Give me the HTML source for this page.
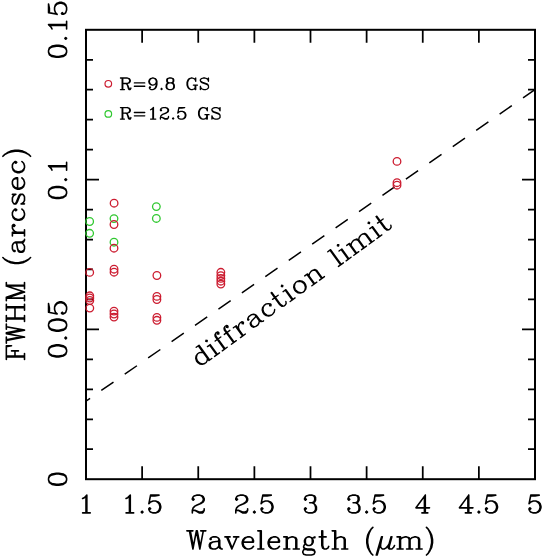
<!DOCTYPE html><html><head><meta charset="utf-8"><style>html,body{margin:0;padding:0;background:#fff;overflow:hidden}svg{display:block}</style></head><body><svg width="544" height="557" viewBox="0 0 544 557"><rect x="86.0" y="29.8" width="449.0" height="449.4" fill="none" stroke="#000" stroke-width="2.0"/><path d="M142.12 479.2V466.2M142.12 29.8V42.8M198.25 479.2V466.2M198.25 29.8V42.8M254.38 479.2V466.2M254.38 29.8V42.8M310.50 479.2V466.2M310.50 29.8V42.8M366.62 479.2V466.2M366.62 29.8V42.8M422.75 479.2V466.2M422.75 29.8V42.8M478.88 479.2V466.2M478.88 29.8V42.8M86.0 449.24H93.0M535.0 449.24H528.0M86.0 419.28H93.0M535.0 419.28H528.0M86.0 389.32H93.0M535.0 389.32H528.0M86.0 359.36H93.0M535.0 359.36H528.0M86.0 329.40H99.0M535.0 329.40H522.0M86.0 299.44H93.0M535.0 299.44H528.0M86.0 269.48H93.0M535.0 269.48H528.0M86.0 239.52H93.0M535.0 239.52H528.0M86.0 209.56H93.0M535.0 209.56H528.0M86.0 179.60H99.0M535.0 179.60H522.0M86.0 149.64H93.0M535.0 149.64H528.0M86.0 119.68H93.0M535.0 119.68H528.0M86.0 89.72H93.0M535.0 89.72H528.0M86.0 59.76H93.0M535.0 59.76H528.0" stroke="#000" stroke-width="1.75" fill="none"/><defs><clipPath id="c"><rect x="86" y="29.8" width="449" height="449.4"/></clipPath></defs><path clip-path="url(#c)" d="M77.87 406.74L540.00 86.03" stroke="#000" stroke-width="1.5" stroke-dasharray="14.85 13.67" fill="none"/><circle cx="89.65" cy="221.5" r="3.8" fill="none" stroke="#30c830" stroke-width="1.3"/><circle cx="89.65" cy="233.3" r="3.8" fill="none" stroke="#30c830" stroke-width="1.3"/><circle cx="114" cy="218.6" r="3.8" fill="none" stroke="#30c830" stroke-width="1.3"/><circle cx="114" cy="242.2" r="3.8" fill="none" stroke="#30c830" stroke-width="1.3"/><circle cx="156.35" cy="206.6" r="3.8" fill="none" stroke="#30c830" stroke-width="1.3"/><circle cx="156.35" cy="218.45" r="3.8" fill="none" stroke="#30c830" stroke-width="1.3"/><circle cx="89.7" cy="272.4" r="3.8" fill="none" stroke="#cc1c30" stroke-width="1.3"/><circle cx="89.8" cy="295.8" r="3.8" fill="none" stroke="#cc1c30" stroke-width="1.3"/><circle cx="89.8" cy="298.0" r="3.8" fill="none" stroke="#cc1c30" stroke-width="1.3"/><circle cx="89.8" cy="300.5" r="3.8" fill="none" stroke="#cc1c30" stroke-width="1.3"/><circle cx="89.8" cy="308.1" r="3.8" fill="none" stroke="#cc1c30" stroke-width="1.3"/><circle cx="114.1" cy="203.2" r="3.8" fill="none" stroke="#cc1c30" stroke-width="1.3"/><circle cx="114" cy="224.5" r="3.8" fill="none" stroke="#cc1c30" stroke-width="1.3"/><circle cx="114" cy="248.2" r="3.8" fill="none" stroke="#cc1c30" stroke-width="1.3"/><circle cx="114.05" cy="269.2" r="3.8" fill="none" stroke="#cc1c30" stroke-width="1.3"/><circle cx="114.05" cy="272.2" r="3.8" fill="none" stroke="#cc1c30" stroke-width="1.3"/><circle cx="114" cy="311.1" r="3.8" fill="none" stroke="#cc1c30" stroke-width="1.3"/><circle cx="114" cy="314.0" r="3.8" fill="none" stroke="#cc1c30" stroke-width="1.3"/><circle cx="114" cy="317.1" r="3.8" fill="none" stroke="#cc1c30" stroke-width="1.3"/><circle cx="156.9" cy="275.5" r="3.8" fill="none" stroke="#cc1c30" stroke-width="1.3"/><circle cx="156.9" cy="296.4" r="3.8" fill="none" stroke="#cc1c30" stroke-width="1.3"/><circle cx="156.9" cy="299.5" r="3.8" fill="none" stroke="#cc1c30" stroke-width="1.3"/><circle cx="156.9" cy="317.4" r="3.8" fill="none" stroke="#cc1c30" stroke-width="1.3"/><circle cx="156.9" cy="320.3" r="3.8" fill="none" stroke="#cc1c30" stroke-width="1.3"/><circle cx="220.85" cy="272.3" r="3.8" fill="none" stroke="#cc1c30" stroke-width="1.3"/><circle cx="220.85" cy="275.6" r="3.8" fill="none" stroke="#cc1c30" stroke-width="1.3"/><circle cx="220.85" cy="278.4" r="3.8" fill="none" stroke="#cc1c30" stroke-width="1.3"/><circle cx="220.85" cy="281.2" r="3.8" fill="none" stroke="#cc1c30" stroke-width="1.3"/><circle cx="220.85" cy="284.1" r="3.8" fill="none" stroke="#cc1c30" stroke-width="1.3"/><circle cx="397.0" cy="161.4" r="3.8" fill="none" stroke="#cc1c30" stroke-width="1.3"/><circle cx="397.0" cy="182.7" r="3.8" fill="none" stroke="#cc1c30" stroke-width="1.3"/><circle cx="397.0" cy="185.2" r="3.8" fill="none" stroke="#cc1c30" stroke-width="1.3"/><circle cx="108.3" cy="83.8" r="3.3" fill="none" stroke="#cc1c30" stroke-width="1.2"/><circle cx="108.3" cy="113.9" r="3.3" fill="none" stroke="#30c830" stroke-width="1.2"/><g fill="none" stroke="#000" stroke-width="1.6" stroke-linecap="round" stroke-linejoin="round"><path transform="translate(86.00 512.90)" stroke-width="1.6" d="M-3.38 -14.37L-1.69 -15.21L0.84 -17.75L0.84 0M0 -16.90L0 0M-3.38 0L4.22 0.00"/><path transform="translate(142.12 512.90)" stroke-width="1.6" d="M-16.05 -14.37L-14.37 -15.21L-11.83 -17.75L-11.83 0M-12.67 -16.90L-12.67 0M-16.05 0L-8.45 0M0 -1.69L-0.84 -0.84L0 0L0.84 -0.84L0 -1.69M8.45 -17.75L6.76 -9.29M6.76 -9.29L8.45 -10.98L10.98 -11.83L13.52 -11.83L16.05 -10.98L17.75 -9.29L18.59 -6.76L18.59 -5.07L17.75 -2.54L16.05 -0.84L13.52 0L10.98 0L8.45 -0.84L7.60 -1.69L6.76 -3.38L6.76 -4.22L7.60 -5.07L8.45 -4.22L7.60 -3.38M13.52 -11.83L15.21 -10.98L16.90 -9.29L17.75 -6.76L17.75 -5.07L16.90 -2.54L15.21 -0.84L13.52 0M8.45 -17.75L16.90 -17.75M8.45 -16.90L12.67 -16.90L16.90 -17.75"/><path transform="translate(198.25 512.90)" stroke-width="1.6" d="M-5.07 -14.37L-4.22 -13.52L-5.07 -12.67L-5.92 -13.52L-5.92 -14.37L-5.07 -16.05L-4.22 -16.90L-1.69 -17.75L1.69 -17.75L4.22 -16.90L5.07 -16.05L5.92 -14.37L5.92 -12.67L5.07 -10.98L2.54 -9.29L-1.69 -7.60L-3.38 -6.76L-5.07 -5.07L-5.92 -2.54L-5.92 0M1.69 -17.75L3.38 -16.90L4.22 -16.05L5.07 -14.37L5.07 -12.67L4.22 -10.98L1.69 -9.29L-1.69 -7.60M-5.92 -1.69L-5.07 -2.54L-3.38 -2.54L0.84 -0.84L3.38 -0.84L5.07 -1.69L5.92 -2.54M-3.38 -2.54L0.84 0L4.22 0L5.07 -0.84L5.92 -2.54L5.92 -4.22"/><path transform="translate(254.38 512.90)" stroke-width="1.6" d="M-17.75 -14.37L-16.90 -13.52L-17.75 -12.67L-18.59 -13.52L-18.59 -14.37L-17.75 -16.05L-16.90 -16.90L-14.37 -17.75L-10.98 -17.75L-8.45 -16.90L-7.60 -16.05L-6.76 -14.37L-6.76 -12.67L-7.60 -10.98L-10.14 -9.29L-14.37 -7.60L-16.05 -6.76L-17.75 -5.07L-18.59 -2.54L-18.59 0M-10.98 -17.75L-9.29 -16.90L-8.45 -16.05L-7.60 -14.37L-7.60 -12.67L-8.45 -10.98L-10.98 -9.29L-14.37 -7.60M-18.59 -1.69L-17.75 -2.54L-16.05 -2.54L-11.83 -0.84L-9.29 -0.84L-7.60 -1.69L-6.76 -2.54M-16.05 -2.54L-11.83 0L-8.45 0L-7.60 -0.84L-6.76 -2.54L-6.76 -4.22M0 -1.69L-0.84 -0.84L0 0L0.84 -0.84L0 -1.69M8.45 -17.75L6.76 -9.29M6.76 -9.29L8.45 -10.98L10.98 -11.83L13.52 -11.83L16.05 -10.98L17.75 -9.29L18.59 -6.76L18.59 -5.07L17.75 -2.54L16.05 -0.84L13.52 0L10.98 0L8.45 -0.84L7.60 -1.69L6.76 -3.38L6.76 -4.22L7.60 -5.07L8.45 -4.22L7.60 -3.38M13.52 -11.83L15.21 -10.98L16.90 -9.29L17.75 -6.76L17.75 -5.07L16.90 -2.54L15.21 -0.84L13.52 0M8.45 -17.75L16.90 -17.75M8.45 -16.90L12.67 -16.90L16.90 -17.75"/><path transform="translate(310.50 512.90)" stroke-width="1.6" d="M-5.07 -14.37L-4.22 -13.52L-5.07 -12.67L-5.92 -13.52L-5.92 -14.37L-5.07 -16.05L-4.22 -16.90L-1.69 -17.75L1.69 -17.75L4.22 -16.90L5.07 -15.21L5.07 -12.67L4.22 -10.98L1.69 -10.14L-0.84 -10.14M1.69 -17.75L3.38 -16.90L4.22 -15.21L4.22 -12.67L3.38 -10.98L1.69 -10.14M1.69 -10.14L3.38 -9.29L5.07 -7.60L5.92 -5.92L5.92 -3.38L5.07 -1.69L4.22 -0.84L1.69 0L-1.69 0L-4.22 -0.84L-5.07 -1.69L-5.92 -3.38L-5.92 -4.22L-5.07 -5.07L-4.22 -4.22L-5.07 -3.38M4.22 -8.45L5.07 -5.92L5.07 -3.38L4.22 -1.69L3.38 -0.84L1.69 0.00"/><path transform="translate(366.62 512.90)" stroke-width="1.6" d="M-17.75 -14.37L-16.90 -13.52L-17.75 -12.67L-18.59 -13.52L-18.59 -14.37L-17.75 -16.05L-16.90 -16.90L-14.37 -17.75L-10.98 -17.75L-8.45 -16.90L-7.60 -15.21L-7.60 -12.67L-8.45 -10.98L-10.98 -10.14L-13.52 -10.14M-10.98 -17.75L-9.29 -16.90L-8.45 -15.21L-8.45 -12.67L-9.29 -10.98L-10.98 -10.14M-10.98 -10.14L-9.29 -9.29L-7.60 -7.60L-6.76 -5.92L-6.76 -3.38L-7.60 -1.69L-8.45 -0.84L-10.98 0L-14.37 0L-16.90 -0.84L-17.75 -1.69L-18.59 -3.38L-18.59 -4.22L-17.75 -5.07L-16.90 -4.22L-17.75 -3.38M-8.45 -8.45L-7.60 -5.92L-7.60 -3.38L-8.45 -1.69L-9.29 -0.84L-10.98 0M0 -1.69L-0.84 -0.84L0 0L0.84 -0.84L0 -1.69M8.45 -17.75L6.76 -9.29M6.76 -9.29L8.45 -10.98L10.98 -11.83L13.52 -11.83L16.05 -10.98L17.75 -9.29L18.59 -6.76L18.59 -5.07L17.75 -2.54L16.05 -0.84L13.52 0L10.98 0L8.45 -0.84L7.60 -1.69L6.76 -3.38L6.76 -4.22L7.60 -5.07L8.45 -4.22L7.60 -3.38M13.52 -11.83L15.21 -10.98L16.90 -9.29L17.75 -6.76L17.75 -5.07L16.90 -2.54L15.21 -0.84L13.52 0M8.45 -17.75L16.90 -17.75M8.45 -16.90L12.67 -16.90L16.90 -17.75"/><path transform="translate(422.75 512.90)" stroke-width="1.6" d="M1.69 -16.05L1.69 0M2.54 -17.75L2.54 0M2.54 -17.75L-6.76 -5.07L6.76 -5.07M-0.84 0L5.07 0.00"/><path transform="translate(478.88 512.90)" stroke-width="1.6" d="M-10.98 -16.05L-10.98 0M-10.14 -17.75L-10.14 0M-10.14 -17.75L-19.43 -5.07L-5.92 -5.07M-13.52 0L-7.60 0M0 -1.69L-0.84 -0.84L0 0L0.84 -0.84L0 -1.69M8.45 -17.75L6.76 -9.29M6.76 -9.29L8.45 -10.98L10.98 -11.83L13.52 -11.83L16.05 -10.98L17.75 -9.29L18.59 -6.76L18.59 -5.07L17.75 -2.54L16.05 -0.84L13.52 0L10.98 0L8.45 -0.84L7.60 -1.69L6.76 -3.38L6.76 -4.22L7.60 -5.07L8.45 -4.22L7.60 -3.38M13.52 -11.83L15.21 -10.98L16.90 -9.29L17.75 -6.76L17.75 -5.07L16.90 -2.54L15.21 -0.84L13.52 0M8.45 -17.75L16.90 -17.75M8.45 -16.90L12.67 -16.90L16.90 -17.75"/><path transform="translate(535.00 512.90)" stroke-width="1.6" d="M-4.22 -17.75L-5.92 -9.29M-5.92 -9.29L-4.22 -10.98L-1.69 -11.83L0.84 -11.83L3.38 -10.98L5.07 -9.29L5.92 -6.76L5.92 -5.07L5.07 -2.54L3.38 -0.84L0.84 0L-1.69 0L-4.22 -0.84L-5.07 -1.69L-5.92 -3.38L-5.92 -4.22L-5.07 -5.07L-4.22 -4.22L-5.07 -3.38M0.84 -11.83L2.54 -10.98L4.22 -9.29L5.07 -6.76L5.07 -5.07L4.22 -2.54L2.54 -0.84L0.84 0M-4.22 -17.75L4.22 -17.75M-4.22 -16.90L0 -16.90L4.22 -17.75"/><path transform="translate(66.60 479.20) rotate(-90.000)" stroke-width="1.6" d="M-0.86 -18.06L-3.44 -17.20L-5.16 -14.62L-6.02 -10.32L-6.02 -7.74L-5.16 -3.44L-3.44 -0.86L-0.86 0L0.86 0L3.44 -0.86L5.16 -3.44L6.02 -7.74L6.02 -10.32L5.16 -14.62L3.44 -17.20L0.86 -18.06L-0.86 -18.06M-0.86 -18.06L-2.58 -17.20L-3.44 -16.34L-4.30 -14.62L-5.16 -10.32L-5.16 -7.74L-4.30 -3.44L-3.44 -1.72L-2.58 -0.86L-0.86 0M0.86 0L2.58 -0.86L3.44 -1.72L4.30 -3.44L5.16 -7.74L5.16 -10.32L4.30 -14.62L3.44 -16.34L2.58 -17.20L0.86 -18.06"/><path transform="translate(66.60 329.40) rotate(-90.000)" stroke-width="1.6" d="M-22.36 -18.06L-24.94 -17.20L-26.66 -14.62L-27.52 -10.32L-27.52 -7.74L-26.66 -3.44L-24.94 -0.86L-22.36 0L-20.64 0L-18.06 -0.86L-16.34 -3.44L-15.48 -7.74L-15.48 -10.32L-16.34 -14.62L-18.06 -17.20L-20.64 -18.06L-22.36 -18.06M-22.36 -18.06L-24.08 -17.20L-24.94 -16.34L-25.80 -14.62L-26.66 -10.32L-26.66 -7.74L-25.80 -3.44L-24.94 -1.72L-24.08 -0.86L-22.36 0M-20.64 0L-18.92 -0.86L-18.06 -1.72L-17.20 -3.44L-16.34 -7.74L-16.34 -10.32L-17.20 -14.62L-18.06 -16.34L-18.92 -17.20L-20.64 -18.06M-8.60 -1.72L-9.46 -0.86L-8.60 0L-7.74 -0.86L-8.60 -1.72M3.44 -18.06L0.86 -17.20L-0.86 -14.62L-1.72 -10.32L-1.72 -7.74L-0.86 -3.44L0.86 -0.86L3.44 0L5.16 0L7.74 -0.86L9.46 -3.44L10.32 -7.74L10.32 -10.32L9.46 -14.62L7.74 -17.20L5.16 -18.06L3.44 -18.06M3.44 -18.06L1.72 -17.20L0.86 -16.34L0 -14.62L-0.86 -10.32L-0.86 -7.74L0 -3.44L0.86 -1.72L1.72 -0.86L3.44 0M5.16 0L6.88 -0.86L7.74 -1.72L8.60 -3.44L9.46 -7.74L9.46 -10.32L8.60 -14.62L7.74 -16.34L6.88 -17.20L5.16 -18.06M17.20 -18.06L15.48 -9.46M15.48 -9.46L17.20 -11.18L19.78 -12.04L22.36 -12.04L24.94 -11.18L26.66 -9.46L27.52 -6.88L27.52 -5.16L26.66 -2.58L24.94 -0.86L22.36 0L19.78 0L17.20 -0.86L16.34 -1.72L15.48 -3.44L15.48 -4.30L16.34 -5.16L17.20 -4.30L16.34 -3.44M22.36 -12.04L24.08 -11.18L25.80 -9.46L26.66 -6.88L26.66 -5.16L25.80 -2.58L24.08 -0.86L22.36 0M17.20 -18.06L25.80 -18.06M17.20 -17.20L21.50 -17.20L25.80 -18.06"/><path transform="translate(66.60 179.60) rotate(-90.000)" stroke-width="1.6" d="M-13.76 -18.06L-16.34 -17.20L-18.06 -14.62L-18.92 -10.32L-18.92 -7.74L-18.06 -3.44L-16.34 -0.86L-13.76 0L-12.04 0L-9.46 -0.86L-7.74 -3.44L-6.88 -7.74L-6.88 -10.32L-7.74 -14.62L-9.46 -17.20L-12.04 -18.06L-13.76 -18.06M-13.76 -18.06L-15.48 -17.20L-16.34 -16.34L-17.20 -14.62L-18.06 -10.32L-18.06 -7.74L-17.20 -3.44L-16.34 -1.72L-15.48 -0.86L-13.76 0M-12.04 0L-10.32 -0.86L-9.46 -1.72L-8.60 -3.44L-7.74 -7.74L-7.74 -10.32L-8.60 -14.62L-9.46 -16.34L-10.32 -17.20L-12.04 -18.06M0 -1.72L-0.86 -0.86L0 0L0.86 -0.86L0 -1.72M9.46 -14.62L11.18 -15.48L13.76 -18.06L13.76 0M12.90 -17.20L12.90 0M9.46 0L17.20 0.00"/><path transform="translate(66.60 29.80) rotate(-90.000)" stroke-width="1.6" d="M-22.36 -18.06L-24.94 -17.20L-26.66 -14.62L-27.52 -10.32L-27.52 -7.74L-26.66 -3.44L-24.94 -0.86L-22.36 0L-20.64 0L-18.06 -0.86L-16.34 -3.44L-15.48 -7.74L-15.48 -10.32L-16.34 -14.62L-18.06 -17.20L-20.64 -18.06L-22.36 -18.06M-22.36 -18.06L-24.08 -17.20L-24.94 -16.34L-25.80 -14.62L-26.66 -10.32L-26.66 -7.74L-25.80 -3.44L-24.94 -1.72L-24.08 -0.86L-22.36 0M-20.64 0L-18.92 -0.86L-18.06 -1.72L-17.20 -3.44L-16.34 -7.74L-16.34 -10.32L-17.20 -14.62L-18.06 -16.34L-18.92 -17.20L-20.64 -18.06M-8.60 -1.72L-9.46 -0.86L-8.60 0L-7.74 -0.86L-8.60 -1.72M0.86 -14.62L2.58 -15.48L5.16 -18.06L5.16 0M4.30 -17.20L4.30 0M0.86 0L8.60 0M17.20 -18.06L15.48 -9.46M15.48 -9.46L17.20 -11.18L19.78 -12.04L22.36 -12.04L24.94 -11.18L26.66 -9.46L27.52 -6.88L27.52 -5.16L26.66 -2.58L24.94 -0.86L22.36 0L19.78 0L17.20 -0.86L16.34 -1.72L15.48 -3.44L15.48 -4.30L16.34 -5.16L17.20 -4.30L16.34 -3.44M22.36 -12.04L24.08 -11.18L25.80 -9.46L26.66 -6.88L26.66 -5.16L25.80 -2.58L24.08 -0.86L22.36 0M17.20 -18.06L25.80 -18.06M17.20 -17.20L21.50 -17.20L25.80 -18.06"/><path transform="translate(119.29 89.55)" stroke-width="1.3" d="M2.89 -11.55L2.89 0M3.47 -11.55L3.47 0M1.16 -11.55L8.11 -11.55L9.84 -11L10.42 -10.45L11 -9.35L11 -8.25L10.42 -7.15L9.84 -6.60L8.11 -6.05L3.47 -6.05M8.11 -11.55L9.26 -11L9.84 -10.45L10.42 -9.35L10.42 -8.25L9.84 -7.15L9.26 -6.60L8.11 -6.05M1.16 0L5.21 0M6.37 -6.05L7.53 -5.50L8.11 -4.95L9.84 -1.10L10.42 -0.55L11 -0.55L11.58 -1.10M7.53 -5.50L8.11 -4.40L9.26 -0.55L9.84 0L11 0L11.58 -1.10L11.58 -1.65M15.05 -6.60L25.48 -6.60M15.05 -3.30L25.48 -3.30M37.06 -7.70L36.48 -6.05L35.32 -4.95L33.58 -4.40L33 -4.40L31.27 -4.95L30.11 -6.05L29.53 -7.70L29.53 -8.25L30.11 -9.90L31.27 -11L33 -11.55L34.16 -11.55L35.90 -11L37.06 -9.90L37.63 -8.25L37.63 -4.95L37.06 -2.75L36.48 -1.65L35.32 -0.55L33.58 0L31.84 0L30.69 -0.55L30.11 -1.65L30.11 -2.20L30.69 -2.75L31.27 -2.20L30.69 -1.65M33 -4.40L31.84 -4.95L30.69 -6.05L30.11 -7.70L30.11 -8.25L30.69 -9.90L31.84 -11L33 -11.55M34.16 -11.55L35.32 -11L36.48 -9.90L37.06 -8.25L37.06 -4.95L36.48 -2.75L35.90 -1.65L34.74 -0.55L33.58 0M42.27 -1.10L41.69 -0.55L42.27 0L42.85 -0.55L42.27 -1.10M49.79 -11.55L48.06 -11L47.48 -9.90L47.48 -8.25L48.06 -7.15L49.79 -6.60L52.11 -6.60L53.85 -7.15L54.43 -8.25L54.43 -9.90L53.85 -11L52.11 -11.55L49.79 -11.55M49.79 -11.55L48.64 -11L48.06 -9.90L48.06 -8.25L48.64 -7.15L49.79 -6.60M52.11 -6.60L53.27 -7.15L53.85 -8.25L53.85 -9.90L53.27 -11L52.11 -11.55M49.79 -6.60L48.06 -6.05L47.48 -5.50L46.90 -4.40L46.90 -2.20L47.48 -1.10L48.06 -0.55L49.79 0L52.11 0L53.85 -0.55L54.43 -1.10L55 -2.20L55 -4.40L54.43 -5.50L53.85 -6.05L52.11 -6.60M49.79 -6.60L48.64 -6.05L48.06 -5.50L47.48 -4.40L47.48 -2.20L48.06 -1.10L48.64 -0.55L49.79 0M52.11 0L53.27 -0.55L53.85 -1.10L54.43 -2.20L54.43 -4.40L53.85 -5.50L53.27 -6.05L52.11 -6.60M75.85 -9.90L76.43 -8.25L76.43 -11.55L75.85 -9.90L74.69 -11L72.95 -11.55L71.80 -11.55L70.06 -11L68.90 -9.90L68.32 -8.80L67.74 -7.15L67.74 -4.40L68.32 -2.75L68.90 -1.65L70.06 -0.55L71.80 0L72.95 0L74.69 -0.55L75.85 -1.65M71.80 -11.55L70.64 -11L69.48 -9.90L68.90 -8.80L68.32 -7.15L68.32 -4.40L68.90 -2.75L69.48 -1.65L70.64 -0.55L71.80 0M75.85 -4.40L75.85 0M76.43 -4.40L76.43 0M74.11 -4.40L78.16 -4.40M88.59 -9.90L89.17 -11.55L89.17 -8.25L88.59 -9.90L87.43 -11L85.69 -11.55L83.95 -11.55L82.22 -11L81.06 -9.90L81.06 -8.80L81.64 -7.70L82.22 -7.15L83.38 -6.60L86.85 -5.50L88.01 -4.95L89.17 -3.85M81.06 -8.80L82.22 -7.70L83.38 -7.15L86.85 -6.05L88.01 -5.50L88.59 -4.95L89.17 -3.85L89.17 -1.65L88.01 -0.55L86.27 0L84.53 0L82.80 -0.55L81.64 -1.65L81.06 -3.30L81.06 0L81.64 -1.65"/><path transform="translate(119.29 119.10)" stroke-width="1.3" d="M2.89 -11.55L2.89 0M3.47 -11.55L3.47 0M1.16 -11.55L8.11 -11.55L9.84 -11L10.42 -10.45L11 -9.35L11 -8.25L10.42 -7.15L9.84 -6.60L8.11 -6.05L3.47 -6.05M8.11 -11.55L9.26 -11L9.84 -10.45L10.42 -9.35L10.42 -8.25L9.84 -7.15L9.26 -6.60L8.11 -6.05M1.16 0L5.21 0M6.37 -6.05L7.53 -5.50L8.11 -4.95L9.84 -1.10L10.42 -0.55L11 -0.55L11.58 -1.10M7.53 -5.50L8.11 -4.40L9.26 -0.55L9.84 0L11 0L11.58 -1.10L11.58 -1.65M15.05 -6.60L25.48 -6.60M15.05 -3.30L25.48 -3.30M31.27 -9.35L32.42 -9.90L34.16 -11.55L34.16 0M33.58 -11L33.58 0M31.27 0L36.48 0M41.69 -9.35L42.27 -8.80L41.69 -8.25L41.11 -8.80L41.11 -9.35L41.69 -10.45L42.27 -11L44 -11.55L46.32 -11.55L48.06 -11L48.64 -10.45L49.21 -9.35L49.21 -8.25L48.64 -7.15L46.90 -6.05L44 -4.95L42.85 -4.40L41.69 -3.30L41.11 -1.65L41.11 0M46.32 -11.55L47.48 -11L48.06 -10.45L48.64 -9.35L48.64 -8.25L48.06 -7.15L46.32 -6.05L44 -4.95M41.11 -1.10L41.69 -1.65L42.85 -1.65L45.74 -0.55L47.48 -0.55L48.64 -1.10L49.21 -1.65M42.85 -1.65L45.74 0L48.06 0L48.64 -0.55L49.21 -1.65L49.21 -2.75M53.85 -1.10L53.27 -0.55L53.85 0L54.43 -0.55L53.85 -1.10M59.64 -11.55L58.48 -6.05M58.48 -6.05L59.64 -7.15L61.37 -7.70L63.11 -7.70L64.85 -7.15L66.01 -6.05L66.58 -4.40L66.58 -3.30L66.01 -1.65L64.85 -0.55L63.11 0L61.37 0L59.64 -0.55L59.06 -1.10L58.48 -2.20L58.48 -2.75L59.06 -3.30L59.64 -2.75L59.06 -2.20M63.11 -7.70L64.27 -7.15L65.43 -6.05L66.01 -4.40L66.01 -3.30L65.43 -1.65L64.27 -0.55L63.11 0M59.64 -11.55L65.43 -11.55M59.64 -11L62.53 -11L65.43 -11.55M87.43 -9.90L88.01 -8.25L88.01 -11.55L87.43 -9.90L86.27 -11L84.53 -11.55L83.38 -11.55L81.64 -11L80.48 -9.90L79.90 -8.80L79.32 -7.15L79.32 -4.40L79.90 -2.75L80.48 -1.65L81.64 -0.55L83.38 0L84.53 0L86.27 -0.55L87.43 -1.65M83.38 -11.55L82.22 -11L81.06 -9.90L80.48 -8.80L79.90 -7.15L79.90 -4.40L80.48 -2.75L81.06 -1.65L82.22 -0.55L83.38 0M87.43 -4.40L87.43 0M88.01 -4.40L88.01 0M85.69 -4.40L89.74 -4.40M100.17 -9.90L100.75 -11.55L100.75 -8.25L100.17 -9.90L99.01 -11L97.27 -11.55L95.53 -11.55L93.80 -11L92.64 -9.90L92.64 -8.80L93.22 -7.70L93.80 -7.15L94.96 -6.60L98.43 -5.50L99.59 -4.95L100.75 -3.85M92.64 -8.80L93.80 -7.70L94.96 -7.15L98.43 -6.05L99.59 -5.50L100.17 -4.95L100.75 -3.85L100.75 -1.65L99.59 -0.55L97.85 0L96.11 0L94.38 -0.55L93.22 -1.65L92.64 -3.30L92.64 0L93.22 -1.65"/><path transform="translate(186.00 549.00)" stroke-width="1.6" d="M3.46 -18.16L6.92 0M4.33 -18.16L6.92 -4.33M10.38 -18.16L6.92 0M10.38 -18.16L13.84 0M11.24 -18.16L13.84 -4.33M17.30 -18.16L13.84 0M0.86 -18.16L6.92 -18.16M14.71 -18.16L19.89 -18.16M25.09 -10.38L25.09 -9.52L24.22 -9.52L24.22 -10.38L25.09 -11.24L26.82 -12.11L30.27 -12.11L32.01 -11.24L32.87 -10.38L33.73 -8.65L33.73 -2.59L34.60 -0.86L35.46 0M32.87 -10.38L32.87 -2.59L33.73 -0.86L35.46 0L36.33 0M32.87 -8.65L32.01 -7.79L26.82 -6.92L24.22 -6.05L23.36 -4.33L23.36 -2.59L24.22 -0.86L26.82 0L29.41 0L31.14 -0.86L32.87 -2.59M26.82 -6.92L25.09 -6.05L24.22 -4.33L24.22 -2.59L25.09 -0.86L26.82 0M40.66 -12.11L45.84 0M41.52 -12.11L45.84 -1.73M51.03 -12.11L45.84 0M38.92 -12.11L44.12 -12.11M47.58 -12.11L52.77 -12.11M57.09 -6.92L67.47 -6.92L67.47 -8.65L66.61 -10.38L65.74 -11.24L64.01 -12.11L61.41 -12.11L58.82 -11.24L57.09 -9.52L56.23 -6.92L56.23 -5.19L57.09 -2.59L58.82 -0.86L61.41 0L63.14 0L65.74 -0.86L67.47 -2.59M66.61 -6.92L66.61 -9.52L65.74 -11.24M61.41 -12.11L59.69 -11.24L57.95 -9.52L57.09 -6.92L57.09 -5.19L57.95 -2.59L59.69 -0.86L61.41 0M74.39 -18.16L74.39 0M75.25 -18.16L75.25 0M71.80 -18.16L75.25 -18.16M71.80 0L77.85 0M83.04 -6.92L93.42 -6.92L93.42 -8.65L92.55 -10.38L91.69 -11.24L89.96 -12.11L87.36 -12.11L84.77 -11.24L83.04 -9.52L82.17 -6.92L82.17 -5.19L83.04 -2.59L84.77 -0.86L87.36 0L89.09 0L91.69 -0.86L93.42 -2.59M92.55 -6.92L92.55 -9.52L91.69 -11.24M87.36 -12.11L85.64 -11.24L83.91 -9.52L83.04 -6.92L83.04 -5.19L83.91 -2.59L85.64 -0.86L87.36 0M100.34 -12.11L100.34 0M101.20 -12.11L101.20 0M101.20 -9.52L102.94 -11.24L105.53 -12.11L107.26 -12.11L109.86 -11.24L110.72 -9.52L110.72 0M107.26 -12.11L108.99 -11.24L109.86 -9.52L109.86 0M97.75 -12.11L101.20 -12.11M97.75 0L103.80 0M107.26 0L113.31 0M121.97 -12.11L120.23 -11.24L119.37 -10.38L118.50 -8.65L118.50 -6.92L119.37 -5.19L120.23 -4.33L121.97 -3.46L123.69 -3.46L125.42 -4.33L126.29 -5.19L127.16 -6.92L127.16 -8.65L126.29 -10.38L125.42 -11.24L123.69 -12.11L121.97 -12.11M120.23 -11.24L119.37 -9.52L119.37 -6.05L120.23 -4.33M125.42 -4.33L126.29 -6.05L126.29 -9.52L125.42 -11.24M126.29 -10.38L127.16 -11.24L128.88 -12.11L128.88 -11.24L127.16 -11.24M119.37 -5.19L118.50 -4.33L117.64 -2.59L117.64 -1.73L118.50 0L121.10 0.86L125.42 0.86L128.02 1.73L128.88 2.59M117.64 -1.73L118.50 -0.86L121.10 0L125.42 0L128.02 0.86L128.88 2.59L128.88 3.46L128.02 5.19L125.42 6.05L120.23 6.05L117.64 5.19L116.78 3.46L116.78 2.59L117.64 0.86L120.23 0M135.81 -18.16L135.81 -3.46L136.67 -0.86L138.40 0L140.13 0L141.86 -0.86L142.72 -2.59M136.67 -18.16L136.67 -3.46L137.53 -0.86L138.40 0M133.21 -12.11L140.13 -12.11M148.78 -18.16L148.78 0M149.65 -18.16L149.65 0M149.65 -9.52L151.38 -11.24L153.97 -12.11L155.70 -12.11L158.29 -11.24L159.16 -9.52L159.16 0M155.70 -12.11L157.43 -11.24L158.29 -9.52L158.29 0M146.19 -18.16L149.65 -18.16M146.19 0L152.24 0M155.70 0L161.75 0M186.84 -21.62L185.11 -19.89L183.38 -17.30L181.65 -13.84L180.78 -9.52L180.78 -6.05L181.65 -1.73L183.38 1.73L185.11 4.33L186.84 6.05M185.11 -19.89L183.38 -16.43L182.51 -13.84L181.65 -9.52L181.65 -6.05L182.51 -1.73L183.38 0.86L185.11 4.33M195.49 -12.11L190.30 6.05M196.35 -12.11L191.16 6.05M195.49 -9.52L194.62 -4.33L194.62 -1.73L196.35 0L198.09 0L199.81 -0.86L201.54 -2.59L203.28 -5.19M205 -12.11L202.41 -2.59L202.41 -0.86L203.28 0L205.87 0L207.60 -1.73L208.47 -3.46M205.87 -12.11L203.28 -2.59L203.28 -0.86L204.14 0M213.66 -12.11L213.66 0M214.52 -12.11L214.52 0M214.52 -9.52L216.25 -11.24L218.84 -12.11L220.57 -12.11L223.17 -11.24L224.03 -9.52L224.03 0M220.57 -12.11L222.31 -11.24L223.17 -9.52L223.17 0M224.03 -9.52L225.76 -11.24L228.36 -12.11L230.09 -12.11L232.69 -11.24L233.55 -9.52L233.55 0M230.09 -12.11L231.82 -11.24L232.69 -9.52L232.69 0M211.06 -12.11L214.52 -12.11M211.06 0L217.12 0M220.57 0L226.63 0M230.09 0L236.15 0M240.47 -21.62L242.20 -19.89L243.93 -17.30L245.66 -13.84L246.53 -9.52L246.53 -6.05L245.66 -1.73L243.93 1.73L242.20 4.33L240.47 6.05M242.20 -19.89L243.93 -16.43L244.79 -13.84L245.66 -9.52L245.66 -6.05L244.79 -1.73L243.93 0.86L242.20 4.33"/><path transform="translate(24.50 361.30) rotate(-90.000)" stroke-width="1.6" d="M4.33 -18.16L4.33 0M5.19 -18.16L5.19 0M10.38 -12.97L10.38 -6.05M1.73 -18.16L15.57 -18.16L15.57 -12.97L14.71 -18.16M5.19 -9.52L10.38 -9.52M1.73 0L7.79 0M20.76 -18.16L24.22 0M21.62 -18.16L24.22 -4.33M27.68 -18.16L24.22 0M27.68 -18.16L31.14 0M28.54 -18.16L31.14 -4.33M34.60 -18.16L31.14 0M18.16 -18.16L24.22 -18.16M32.01 -18.16L37.20 -18.16M42.38 -18.16L42.38 0M43.25 -18.16L43.25 0M53.63 -18.16L53.63 0M54.49 -18.16L54.49 0M39.79 -18.16L45.84 -18.16M51.03 -18.16L57.09 -18.16M43.25 -9.52L53.63 -9.52M39.79 0L45.84 0M51.03 0L57.09 0M63.14 -18.16L63.14 0M64.01 -18.16L69.20 -2.59M63.14 -18.16L69.20 0M75.25 -18.16L69.20 0M75.25 -18.16L75.25 0M76.12 -18.16L76.12 0M60.55 -18.16L64.01 -18.16M75.25 -18.16L78.72 -18.16M60.55 0L65.74 0M72.66 0L78.72 0M103.80 -21.62L102.07 -19.89L100.34 -17.30L98.61 -13.84L97.75 -9.52L97.75 -6.05L98.61 -1.73L100.34 1.73L102.07 4.33L103.80 6.05M102.07 -19.89L100.34 -16.43L99.47 -13.84L98.61 -9.52L98.61 -6.05L99.47 -1.73L100.34 0.86L102.07 4.33M110.72 -10.38L110.72 -9.52L109.86 -9.52L109.86 -10.38L110.72 -11.24L112.45 -12.11L115.91 -12.11L117.64 -11.24L118.50 -10.38L119.37 -8.65L119.37 -2.59L120.23 -0.86L121.10 0M118.50 -10.38L118.50 -2.59L119.37 -0.86L121.10 0L121.97 0M118.50 -8.65L117.64 -7.79L112.45 -6.92L109.86 -6.05L108.99 -4.33L108.99 -2.59L109.86 -0.86L112.45 0L115.05 0L116.78 -0.86L118.50 -2.59M112.45 -6.92L110.72 -6.05L109.86 -4.33L109.86 -2.59L110.72 -0.86L112.45 0M128.02 -12.11L128.02 0M128.88 -12.11L128.88 0M128.88 -6.92L129.75 -9.52L131.48 -11.24L133.21 -12.11L135.81 -12.11L136.67 -11.24L136.67 -10.38L135.81 -9.52L134.94 -10.38L135.81 -11.24M125.42 -12.11L128.88 -12.11M125.42 0L131.48 0M151.38 -9.52L150.51 -8.65L151.38 -7.79L152.24 -8.65L152.24 -9.52L150.51 -11.24L148.78 -12.11L146.19 -12.11L143.59 -11.24L141.86 -9.52L141 -6.92L141 -5.19L141.86 -2.59L143.59 -0.86L146.19 0L147.91 0L150.51 -0.86L152.24 -2.59M146.19 -12.11L144.46 -11.24L142.72 -9.52L141.86 -6.92L141.86 -5.19L142.72 -2.59L144.46 -0.86L146.19 0M166.08 -10.38L166.94 -12.11L166.94 -8.65L166.08 -10.38L165.22 -11.24L163.48 -12.11L160.03 -12.11L158.29 -11.24L157.43 -10.38L157.43 -8.65L158.29 -7.79L160.03 -6.92L164.35 -5.19L166.08 -4.33L166.94 -3.46M157.43 -9.52L158.29 -8.65L160.03 -7.79L164.35 -6.05L166.08 -5.19L166.94 -4.33L166.94 -1.73L166.08 -0.86L164.35 0L160.89 0L159.16 -0.86L158.29 -1.73L157.43 -3.46L157.43 0L158.29 -1.73M173 -6.92L183.38 -6.92L183.38 -8.65L182.51 -10.38L181.65 -11.24L179.92 -12.11L177.32 -12.11L174.73 -11.24L173 -9.52L172.13 -6.92L172.13 -5.19L173 -2.59L174.73 -0.86L177.32 0L179.06 0L181.65 -0.86L183.38 -2.59M182.51 -6.92L182.51 -9.52L181.65 -11.24M177.32 -12.11L175.59 -11.24L173.87 -9.52L173 -6.92L173 -5.19L173.87 -2.59L175.59 -0.86L177.32 0M198.95 -9.52L198.09 -8.65L198.95 -7.79L199.81 -8.65L199.81 -9.52L198.09 -11.24L196.35 -12.11L193.76 -12.11L191.16 -11.24L189.44 -9.52L188.57 -6.92L188.57 -5.19L189.44 -2.59L191.16 -0.86L193.76 0L195.49 0L198.09 -0.86L199.81 -2.59M193.76 -12.11L192.03 -11.24L190.30 -9.52L189.44 -6.92L189.44 -5.19L190.30 -2.59L192.03 -0.86L193.76 0M205 -21.62L206.73 -19.89L208.47 -17.30L210.19 -13.84L211.06 -9.52L211.06 -6.05L210.19 -1.73L208.47 1.73L206.73 4.33L205 6.05M206.73 -19.89L208.47 -16.43L209.33 -13.84L210.19 -9.52L210.19 -6.05L209.33 -1.73L208.47 0.86L206.73 4.33"/><path transform="translate(198.50 368.10) rotate(-36.000)" stroke-width="1.4" d="M12.97 -18.16L12.97 0M13.84 -18.16L13.84 0M12.97 -9.52L11.24 -11.24L9.52 -12.11L7.79 -12.11L5.19 -11.24L3.46 -9.52L2.59 -6.92L2.59 -5.19L3.46 -2.59L5.19 -0.86L7.79 0L9.52 0L11.24 -0.86L12.97 -2.59M7.79 -12.11L6.05 -11.24L4.33 -9.52L3.46 -6.92L3.46 -5.19L4.33 -2.59L6.05 -0.86L7.79 0M10.38 -18.16L13.84 -18.16M12.97 0L16.43 0M22.49 -18.16L21.62 -17.30L22.49 -16.43L23.36 -17.30L22.49 -18.16M22.49 -12.11L22.49 0M23.36 -12.11L23.36 0M19.89 -12.11L23.36 -12.11M19.89 0L25.95 0M36.33 -17.30L35.46 -16.43L36.33 -15.57L37.20 -16.43L37.20 -17.30L36.33 -18.16L34.60 -18.16L32.87 -17.30L32.01 -15.57L32.01 0M34.60 -18.16L33.73 -17.30L32.87 -15.57L32.87 0M29.41 -12.11L36.33 -12.11M29.41 0L35.46 0M47.58 -17.30L46.71 -16.43L47.58 -15.57L48.44 -16.43L48.44 -17.30L47.58 -18.16L45.84 -18.16L44.12 -17.30L43.25 -15.57L43.25 0M45.84 -18.16L44.98 -17.30L44.12 -15.57L44.12 0M40.66 -12.11L47.58 -12.11M40.66 0L46.71 0M54.49 -12.11L54.49 0M55.36 -12.11L55.36 0M55.36 -6.92L56.23 -9.52L57.95 -11.24L59.69 -12.11L62.28 -12.11L63.14 -11.24L63.14 -10.38L62.28 -9.52L61.41 -10.38L62.28 -11.24M51.90 -12.11L55.36 -12.11M51.90 0L57.95 0M69.20 -10.38L69.20 -9.52L68.33 -9.52L68.33 -10.38L69.20 -11.24L70.93 -12.11L74.39 -12.11L76.12 -11.24L76.98 -10.38L77.85 -8.65L77.85 -2.59L78.72 -0.86L79.58 0M76.98 -10.38L76.98 -2.59L77.85 -0.86L79.58 0L80.44 0M76.98 -8.65L76.12 -7.79L70.93 -6.92L68.33 -6.05L67.47 -4.33L67.47 -2.59L68.33 -0.86L70.93 0L73.53 0L75.25 -0.86L76.98 -2.59M70.93 -6.92L69.20 -6.05L68.33 -4.33L68.33 -2.59L69.20 -0.86L70.93 0M95.15 -9.52L94.28 -8.65L95.15 -7.79L96.02 -8.65L96.02 -9.52L94.28 -11.24L92.55 -12.11L89.96 -12.11L87.36 -11.24L85.64 -9.52L84.77 -6.92L84.77 -5.19L85.64 -2.59L87.36 -0.86L89.96 0L91.69 0L94.28 -0.86L96.02 -2.59M89.96 -12.11L88.23 -11.24L86.50 -9.52L85.64 -6.92L85.64 -5.19L86.50 -2.59L88.23 -0.86L89.96 0M102.94 -18.16L102.94 -3.46L103.80 -0.86L105.53 0L107.26 0L108.99 -0.86L109.86 -2.59M103.80 -18.16L103.80 -3.46L104.66 -0.86L105.53 0M100.34 -12.11L107.26 -12.11M115.91 -18.16L115.05 -17.30L115.91 -16.43L116.78 -17.30L115.91 -18.16M115.91 -12.11L115.91 0M116.78 -12.11L116.78 0M113.31 -12.11L116.78 -12.11M113.31 0L119.37 0M128.88 -12.11L126.29 -11.24L124.56 -9.52L123.69 -6.92L123.69 -5.19L124.56 -2.59L126.29 -0.86L128.88 0L130.62 0L133.21 -0.86L134.94 -2.59L135.81 -5.19L135.81 -6.92L134.94 -9.52L133.21 -11.24L130.62 -12.11L128.88 -12.11M128.88 -12.11L127.16 -11.24L125.42 -9.52L124.56 -6.92L124.56 -5.19L125.42 -2.59L127.16 -0.86L128.88 0M130.62 0L132.34 -0.86L134.07 -2.59L134.94 -5.19L134.94 -6.92L134.07 -9.52L132.34 -11.24L130.62 -12.11M142.72 -12.11L142.72 0M143.59 -12.11L143.59 0M143.59 -9.52L145.32 -11.24L147.91 -12.11L149.65 -12.11L152.24 -11.24L153.10 -9.52L153.10 0M149.65 -12.11L151.38 -11.24L152.24 -9.52L152.24 0M140.13 -12.11L143.59 -12.11M140.13 0L146.19 0M149.65 0L155.70 0M175.59 -18.16L175.59 0M176.46 -18.16L176.46 0M173 -18.16L176.46 -18.16M173 0L179.06 0M185.11 -18.16L184.25 -17.30L185.11 -16.43L185.97 -17.30L185.11 -18.16M185.11 -12.11L185.11 0M185.97 -12.11L185.97 0M182.51 -12.11L185.97 -12.11M182.51 0L188.57 0M194.62 -12.11L194.62 0M195.49 -12.11L195.49 0M195.49 -9.52L197.22 -11.24L199.81 -12.11L201.54 -12.11L204.14 -11.24L205 -9.52L205 0M201.54 -12.11L203.28 -11.24L204.14 -9.52L204.14 0M205 -9.52L206.73 -11.24L209.33 -12.11L211.06 -12.11L213.66 -11.24L214.52 -9.52L214.52 0M211.06 -12.11L212.79 -11.24L213.66 -9.52L213.66 0M192.03 -12.11L195.49 -12.11M192.03 0L198.09 0M201.54 0L207.60 0M211.06 0L217.12 0M223.17 -18.16L222.31 -17.30L223.17 -16.43L224.03 -17.30L223.17 -18.16M223.17 -12.11L223.17 0M224.03 -12.11L224.03 0M220.57 -12.11L224.03 -12.11M220.57 0L226.63 0M232.69 -18.16L232.69 -3.46L233.55 -0.86L235.28 0L237.01 0L238.74 -0.86L239.60 -2.59M233.55 -18.16L233.55 -3.46L234.41 -0.86L235.28 0M230.09 -12.11L237.01 -12.11"/></g></svg></body></html>
